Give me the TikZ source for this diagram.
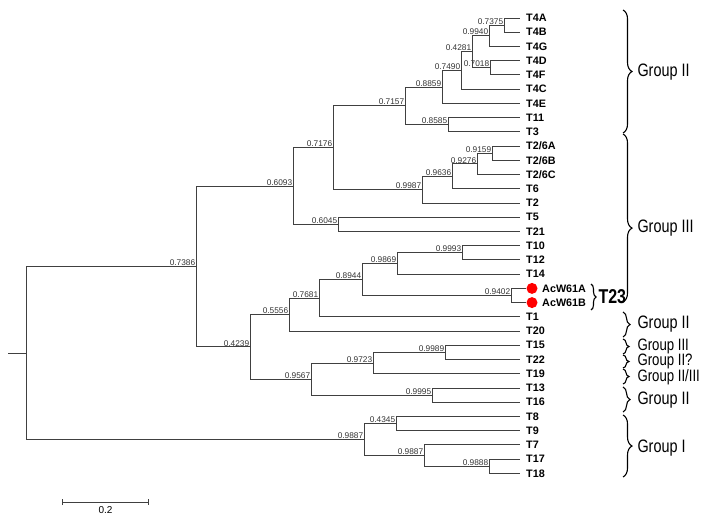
\documentclass[tikz,border=0pt]{standalone}
\usepackage{fontspec}
\setmainfont{Liberation Sans}
\newfontfamily\narrowfont[FakeStretch=0.8]{Liberation Sans}
\usepackage{tikz}
\usetikzlibrary{positioning, arrows.meta, decorations.pathreplacing}
\tikzset{
    x=1pt, y=-1pt, % one unit is one pixel of the figure, y runs downwards
    branch/.style={draw=black!75, line width=0.9pt}, % the tree lines
    leaf/.style={anchor=west, inner xsep=6pt, inner ysep=1pt, font=\bfseries\fontsize{10.8}{12}\selectfont}, % taxon names
    bv/.style={font=\fontsize{8.3}{9}\selectfont, text=black!80, inner sep=0.6pt}, % bootstrap values
    brc/.style={decorate, decoration={brace, amplitude=9pt}, line width=1.1pt}, % group braces
    glab/.style={anchor=west, font=\narrowfont\fontsize{18}{20}\selectfont}, % group names
}

\begin{document}
\begin{tikzpicture}[
                        dot/.style={circle, fill=red, minimum size=11pt, inner sep=0pt},
                        smallgrp/.style={font=\narrowfont\fontsize{16.5}{18}\selectfont},
                        label distance=0pt,
                    ]
    \useasboundingbox (0,0) rectangle (708,522);

    % taxa
    \node[leaf] (t4a) at (520,18) {T4A};
    \node[leaf] (t4b) at (520,32.2) {T4B};
    \node[leaf] (t4g) at (520,46.5) {T4G};
    \node[leaf] (t4d) at (520,60.7) {T4D};
    \node[leaf] (t4f) at (520,74.9) {T4F};
    \node[leaf] (t4c) at (520,89.2) {T4C};
    \node[leaf] (t4e) at (520,103.4) {T4E};
    \node[leaf] (t11) at (520,117.6) {T11};
    \node[leaf] (t3) at (520,131.8) {T3};
    \node[leaf] (t26a) at (520,146.1) {T2/6A};
    \node[leaf] (t26b) at (520,160.3) {T2/6B};
    \node[leaf] (t26c) at (520,174.5) {T2/6C};
    \node[leaf] (t6) at (520,188.8) {T6};
    \node[leaf] (t2) at (520,203) {T2};
    \node[leaf] (t5) at (520,217.2) {T5};
    \node[leaf] (t21) at (520,231.5) {T21};
    \node[leaf] (t10) at (520,245.7) {T10};
    \node[leaf] (t12) at (520,259.9) {T12};
    \node[leaf] (t14) at (520,274.1) {T14};
    \node[dot] (d61a) at (532,288.4) {};
    \node[dot] (d61b) at (532,302.6) {};
    \node[leaf, inner xsep=2pt] (acw61a) at (540,288.4) {AcW61A};
    \node[leaf, inner xsep=2pt] (acw61b) at (540,302.6) {AcW61B};
    \node[leaf] (t1) at (520,316.8) {T1};
    \node[leaf] (t20) at (520,331.1) {T20};
    \node[leaf] (t15) at (520,345.3) {T15};
    \node[leaf] (t22) at (520,359.5) {T22};
    \node[leaf] (t19) at (520,373.8) {T19};
    \node[leaf] (t13) at (520,388) {T13};
    \node[leaf] (t16) at (520,402.2) {T16};
    \node[leaf] (t8) at (520,416.4) {T8};
    \node[leaf] (t9) at (520,430.7) {T9};
    \node[leaf] (t7) at (520,444.9) {T7};
    \node[leaf] (t17) at (520,459.1) {T17};
    \node[leaf] (t18) at (520,473.4) {T18};

    % clades
    \coordinate[label={[bv]above left:0.7375}] (b7375) at (504,25.1);
    \coordinate[label={[bv]above left:0.9940}] (b9940) at (489,35.8);
    \coordinate[label={[bv]above left:0.7018}] (b7018) at (490,67.8);
    \coordinate[label={[bv]above left:0.4281}] (b4281) at (472,51.8);
    \coordinate[label={[bv]above left:0.7490}] (b7490) at (461,70.5);
    \coordinate[label={[bv]above left:0.8859}] (b8859) at (442,87);
    \coordinate[label={[bv]above left:0.8585}] (b8585) at (448,124.7);
    \coordinate[label={[bv]above left:0.7157}] (b7157) at (405,105.8);
    \coordinate[label={[bv]above left:0.9159}] (b9159) at (492,153.2);
    \coordinate[label={[bv]above left:0.9276}] (b9276) at (477,163.9);
    \coordinate[label={[bv]above left:0.9636}] (b9636) at (452,176.3);
    \coordinate[label={[bv]above left:0.9987}] (b9987) at (422,189.7);
    \coordinate[label={[bv]above left:0.7176}] (b7176) at (333,147.7);
    \coordinate[label={[bv]above left:0.6045}] (b6045) at (338,224.3);
    \coordinate[label={[bv]above left:0.6093}] (b6093) at (293,186);
    \coordinate[label={[bv]above left:0.9993}] (b9993) at (462,252.8);
    \coordinate[label={[bv]above left:0.9869}] (b9869) at (397,263.5);
    \coordinate[label={[bv]above left:0.9402}] (b9402) at (511,295.5);
    \coordinate[label={[bv]above left:0.8944}] (b8944) at (362,279.5);
    \coordinate[label={[bv]above left:0.7681}] (b7681) at (319,298.1);
    \coordinate[label={[bv]above left:0.5556}] (b5556) at (289,314.6);
    \coordinate[label={[bv]above left:0.9989}] (b9989) at (445,352.4);
    \coordinate[label={[bv]above left:0.9723}] (b9723) at (373,363.1);
    \coordinate[label={[bv]above left:0.9995}] (b9995) at (432,395.1);
    \coordinate[label={[bv]above left:0.9567}] (b9567) at (311,379.1);
    \coordinate[label={[bv]above left:0.4239}] (b4239) at (250,346.9);
    \coordinate[label={[bv]above left:0.7386}] (b7386) at (196,266.4);
    \coordinate[label={[bv]above left:0.4345}] (b4345) at (396,423.5);
    \coordinate[label={[bv]above left:0.9888}] (b9888) at (489,466.2);
    \coordinate[label={[bv]above left:0.9887}] (b9887b) at (424,455.6);
    \coordinate[label={[bv]above left:0.9887}] (b9887a) at (364,439.5);
    \coordinate (root) at (26,353);
    \coordinate (stub) at (8,353);

    \draw[branch]
    (b7375) |- (t4a)
    (b7375) |- (t4b)
    (b9940) |- (b7375)
    (b9940) |- (t4g)
    (b7018) |- (t4d)
    (b7018) |- (t4f)
    (b4281) |- (b9940)
    (b4281) |- (b7018)
    (b7490) |- (b4281)
    (b7490) |- (t4c)
    (b8859) |- (b7490)
    (b8859) |- (t4e)
    (b8585) |- (t11)
    (b8585) |- (t3)
    (b7157) |- (b8859)
    (b7157) |- (b8585)

    (b9159) |- (t26a)
    (b9159) |- (t26b)
    (b9276) |- (b9159)
    (b9276) |- (t26c)
    (b9636) |- (b9276)
    (b9636) |- (t6)
    (b9987) |- (b9636)
    (b9987) |- (t2)
    (b7176) |- (b7157)
    (b7176) |- (b9987)
    (b6045) |- (t5)
    (b6045) |- (t21)
    (b6093) |- (b7176)
    (b6093) |- (b6045)

    (b9993) |- (t10)
    (b9993) |- (t12)
    (b9869) |- (b9993)
    (b9869) |- (t14)
    (b9402) |- (d61a)
    (b9402) |- (d61b)
    (b8944) |- (b9869)
    (b8944) |- (b9402)
    (b7681) |- (b8944)
    (b7681) |- (t1)
    (b5556) |- (b7681)
    (b5556) |- (t20)

    (b9989) |- (t15)
    (b9989) |- (t22)
    (b9723) |- (b9989)
    (b9723) |- (t19)
    (b9995) |- (t13)
    (b9995) |- (t16)
    (b9567) |- (b9723)
    (b9567) |- (b9995)
    (b4239) |- (b5556)
    (b4239) |- (b9567)
    (b7386) |- (b6093)
    (b7386) |- (b4239)

    (b4345) |- (t8)
    (b4345) |- (t9)
    (b9888) |- (t17)
    (b9888) |- (t18)
    (b9887b) |- (t7)
    (b9887b) |- (b9888)
    (b9887a) |- (b4345)
    (b9887a) |- (b9887b)

    (root) |- (b7386)
    (root) |- (b9887a)
    (stub) -- (root);

    % groups
    \draw[brc] (623,10) -- (623,133);
    \draw[brc, decoration={aspect=0.56}] (623,134) -- (623,302);
    \draw[brc, decoration={amplitude=5pt}] (591,284) -- (591,310);
    \draw[brc, decoration={amplitude=7pt}] (623,312) -- (623,337);
    \draw[brc, decoration={amplitude=6pt}] (623,339) -- (623,354);
    \draw[brc, decoration={amplitude=6pt}] (623,355) -- (623,368);
    \draw[brc, decoration={amplitude=6pt}] (623,369) -- (623,384);
    \draw[brc, decoration={amplitude=7pt}] (623,387) -- (623,412);
    \draw[brc] (623,415) -- (623,477);
    \node[glab] (g2a) at (634,72) {Group II};
    \node[glab] (g3a) at (634,228) {Group III};
    \node[glab, font=\narrowfont\bfseries\fontsize{20}{21}\selectfont] (gt23) at (595,297) {T23};
    \node[glab] (g2b) at (634,324) {Group II};
    \node[glab, smallgrp] (g3b) at (634,346) {Group III};
    \node[glab, smallgrp] (g2q) at (634,361.5) {Group II?};
    \node[glab, smallgrp] (g23) at (634,377) {Group II/III};
    \node[glab] (g2c) at (634,400) {Group II};
    \node[glab] (g1) at (634,448) {Group I};

    % scale
    \coordinate (sb1) at (62,502);
    \coordinate (sb2) at (149,502);
    \draw[branch, {Bar[width=6pt]}-{Bar[width=6pt]}] (sb1) -- node[below=1pt, font=\fontsize{10}{12}\selectfont] (sbl) {0.2} (sb2);
\end{tikzpicture}
\end{document}
